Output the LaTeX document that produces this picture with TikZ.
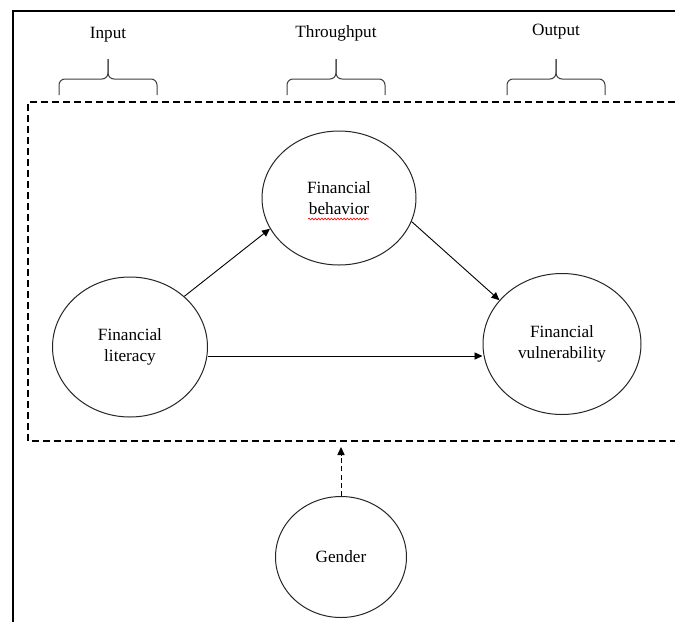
\documentclass[tikz,border=0pt]{standalone}
\usepackage{fontspec}
\setmainfont{Liberation Serif}
\usetikzlibrary{shapes.geometric,arrows.meta,decorations.pathmorphing}

\begin{document}
\begin{tikzpicture}[x=0.5pt, y=-0.5pt,
  var/.style={draw=black!85, ellipse, line width=0.5pt, align=center, inner sep=0pt, font=\fontsize{8.6}{10.2}\selectfont},
  heading/.style={font=\fontsize{8.6}{10.2}\selectfont},
  conn/.style={draw, line width=0.45pt, -{Triangle[length=4pt,width=3.6pt]}},
  bracket/.style={draw=black!75, line width=0.5pt, rounded corners=3pt}]
\useasboundingbox[fill=white] (0,0) rectangle (675,622);
\draw[line width=1pt] (13,622) -- (13,11) -- (675,11);
\draw[line width=1pt, dash pattern=on 3.4pt off 2.1pt] (675,102) -- (28,102) -- (28,441) -- (675,441);
\foreach \bx/\word/\wy in {108/Input/35, 336/Throughput/33, 556/Output/32} {
  \node (h\word) [heading] at (\bx,\wy) {\word};
  \draw[bracket] (\bx-49,95) |- (\bx,79) -- (\bx,59);
  \draw[bracket] (\bx+49,95) |- (\bx,79) -- (\bx,59);
}
\node (lit) [var, minimum width=77.5pt, minimum height=70pt] at (130,347) {Financial\\literacy};
\node (beh) [var, minimum width=77pt, minimum height=67pt] at (339,198) {Financial\\behavior};
\node (vul) [var, minimum width=79pt, minimum height=70.5pt] at (562,344) {Financial\\vulnerability};
\node (gen) [var, minimum width=65.5pt, minimum height=60.5pt] at (341,557) {Gender};
\coordinate (mod) at (341,447);
\draw[red, line width=0.3pt, decorate, decoration={snake, amplitude=0.45pt, segment length=1.6pt}] (308,219) -- (369,219);
\draw[conn] (lit.43) -- (beh.204);
\draw[conn] (beh.-18) -- (vul.145);
\draw[conn] ([yshift=-4.5pt]lit.east) -- ([yshift=-4.5pt]lit.east -| vul.west);
\draw[conn, dash pattern=on 2.5pt off 1.6pt] (gen.north) -- (mod);
\end{tikzpicture}
\end{document}
